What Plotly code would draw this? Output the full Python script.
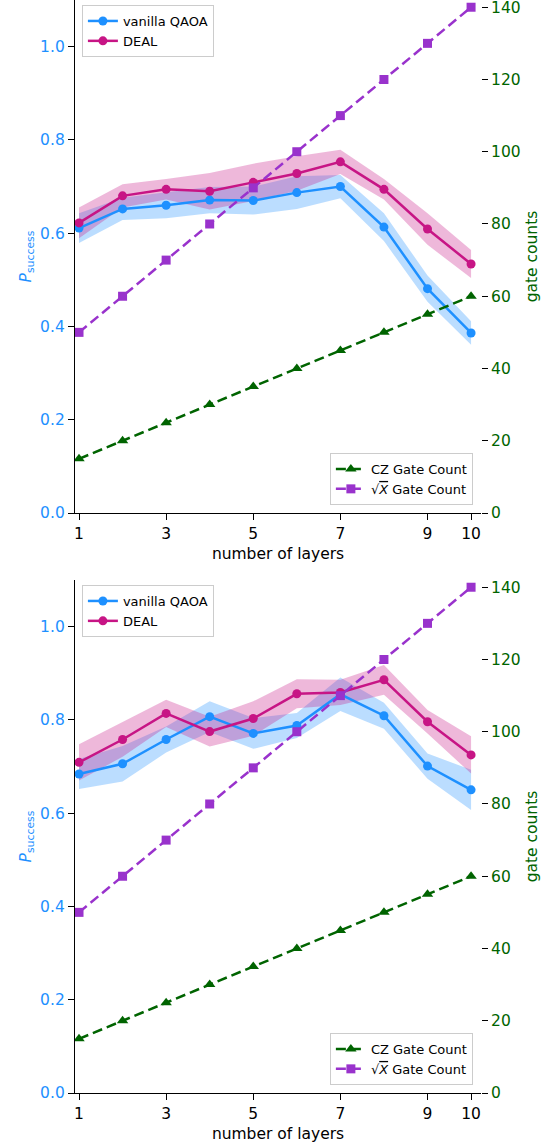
import plotly.graph_objects as go

# x positions: number of QAOA layers
layers = [1, 2, 3, 4, 5, 6, 7, 8, 9, 10]
layer_ticks = [1, 3, 5, 7, 9, 10]

# gate counts per layer count (same for both panels)
cz_counts = [15, 20, 25, 30, 35, 40, 45, 50, 55, 60]
sx_counts = [50, 60, 70, 80, 90, 100, 110, 120, 130, 140]

# panel A: success probabilities and spreads
vanilla_a = [0.611, 0.652, 0.660, 0.671, 0.670, 0.687, 0.700, 0.613, 0.481, 0.386]
vanilla_a_err = [0.032, 0.024, 0.028, 0.028, 0.030, 0.035, 0.025, 0.030, 0.028, 0.025]
deal_a = [0.622, 0.680, 0.694, 0.690, 0.709, 0.728, 0.753, 0.694, 0.609, 0.534]
deal_a_err = [0.033, 0.025, 0.022, 0.039, 0.040, 0.037, 0.026, 0.022, 0.034, 0.030]

# panel B: success probabilities and spreads
vanilla_b = [0.684, 0.706, 0.758, 0.807, 0.771, 0.788, 0.855, 0.809, 0.701, 0.650]
vanilla_b_err = [0.032, 0.038, 0.028, 0.033, 0.033, 0.027, 0.036, 0.028, 0.027, 0.043]
deal_b = [0.709, 0.758, 0.814, 0.775, 0.803, 0.856, 0.859, 0.886, 0.796, 0.725]
deal_b_err = [0.039, 0.037, 0.029, 0.032, 0.037, 0.031, 0.027, 0.032, 0.025, 0.040]

p_ticks = [0.0, 0.2, 0.4, 0.6, 0.8, 1.0]
gate_ticks = [0, 20, 40, 60, 80, 100, 120, 140]

BLUE = "dodgerblue"
PINK = "mediumvioletred"
PURPLE = "darkorchid"
GREEN = "darkgreen"
BLUE_FILL = "rgba(30,144,255,0.3)"
PINK_FILL = "rgba(199,21,133,0.3)"
FONT = "DejaVu Sans"

fig = go.Figure()


def band(x, mean, err, color, xa, ya):
    upper = [m + e for m, e in zip(mean, err)]
    lower = [m - e for m, e in zip(mean, err)]
    return go.Scatter(
        x=x + x[::-1], y=upper + lower[::-1], fill="toself", fillcolor=color,
        line=dict(width=0), mode="lines", hoverinfo="skip", showlegend=False,
        xaxis=xa, yaxis=ya,
    )


panels = [
    (vanilla_a, vanilla_a_err, deal_a, deal_a_err, "x", "y", "y2", "legend", "legend2"),
    (vanilla_b, vanilla_b_err, deal_b, deal_b_err, "x2", "y3", "y4", "legend3", "legend4"),
]

for van, van_err, deal, deal_err, xa, yl, yr, leg_p, leg_g in panels:
    fig.add_trace(band(layers, van, van_err, BLUE_FILL, xa, yl))
    fig.add_trace(band(layers, deal, deal_err, PINK_FILL, xa, yl))
    fig.add_trace(go.Scatter(
        x=layers, y=van, mode="lines+markers", name="vanilla QAOA",
        line=dict(color=BLUE, width=2.5), marker=dict(symbol="circle", size=9, color=BLUE),
        xaxis=xa, yaxis=yl, legend=leg_p,
    ))
    fig.add_trace(go.Scatter(
        x=layers, y=deal, mode="lines+markers", name="DEAL",
        line=dict(color=PINK, width=2.5), marker=dict(symbol="circle", size=9, color=PINK),
        xaxis=xa, yaxis=yl, legend=leg_p,
    ))
    fig.add_trace(go.Scatter(
        x=layers, y=cz_counts, mode="lines+markers", name="CZ Gate Count",
        line=dict(color=GREEN, width=2.5, dash="10px,5px"),
        marker=dict(symbol="triangle-up", size=10, color=GREEN),
        xaxis=xa, yaxis=yr, legend=leg_g,
    ))
    fig.add_trace(go.Scatter(
        x=layers, y=sx_counts, mode="lines+markers",
        name="√<span style='text-decoration:overline'><i>X</i></span> Gate Count",
        line=dict(color=PURPLE, width=2.5, dash="10px,5px"),
        marker=dict(symbol="square", size=9, color=PURPLE),
        xaxis=xa, yaxis=yr, legend=leg_g,
    ))

H_PLOT = 1093.0
top_dom = [1 - 513 / H_PLOT, 1.0]
bot_dom = [0.0, 513 / H_PLOT]

x_common = dict(
    range=[0.908, 10.228], tickvals=layer_ticks, showline=True, linecolor="black",
    linewidth=1.3, ticks="outside", ticklen=6, tickcolor="black", showgrid=False,
    zeroline=False, tickfont=dict(size=15.5, color="black"),
    title=dict(text="number of layers", font=dict(size=15.5, color="black"), standoff=6),
)
yl_common = dict(
    range=[0, 1.1], tickvals=p_ticks, ticktext=[f"{v:.1f}" for v in p_ticks],
    showline=True, linecolor="black", linewidth=1.3, ticks="outside", ticklen=6,
    tickcolor="black", showgrid=False, zeroline=False, ticklabeloverflow="allow",
    tickfont=dict(size=15.5, color=BLUE),
    title=dict(text="<i>P</i><sub>success</sub>", font=dict(size=15.5, color=BLUE), standoff=4),
)
yr_common = dict(
    range=[0, 142], tickvals=gate_ticks, side="right", showline=False, ticks="outside",
    ticklen=6, tickcolor="black", showgrid=False, zeroline=False,
    ticklabeloverflow="allow",
    tickfont=dict(size=15.5, color=GREEN),
    title=dict(text="gate counts", font=dict(size=15.5, color=GREEN), standoff=6),
)

legend_common = dict(
    bgcolor="rgba(255,255,255,0.8)", bordercolor="#cccccc", borderwidth=1,
    font=dict(size=13, color="black", family=FONT), tracegroupgap=0,
)

fig.update_layout(
    width=550, height=1147,
    margin=dict(l=75, r=69, t=0, b=54),
    paper_bgcolor="white", plot_bgcolor="white",
    font=dict(family=FONT),
    xaxis=dict(domain=[0, 1], anchor="y", **x_common),
    yaxis=dict(domain=top_dom, anchor="x", **yl_common),
    yaxis2=dict(overlaying="y", anchor="x", **yr_common),
    xaxis2=dict(domain=[0, 1], anchor="y3", **x_common),
    yaxis3=dict(domain=bot_dom, anchor="x2", **yl_common),
    yaxis4=dict(overlaying="y3", anchor="x2", **yr_common),
    legend=dict(x=0.017, y=1 - 5 / H_PLOT, xanchor="left", yanchor="top", **legend_common),
    legend2=dict(x=0.980, y=1 - 505 / H_PLOT, xanchor="right", yanchor="bottom", **legend_common),
    legend3=dict(x=0.017, y=1 - 585 / H_PLOT, xanchor="left", yanchor="top", **legend_common),
    legend4=dict(x=0.980, y=1 - 1085 / H_PLOT, xanchor="right", yanchor="bottom", **legend_common),
    showlegend=True,
)

fig.write_html("out.html")
